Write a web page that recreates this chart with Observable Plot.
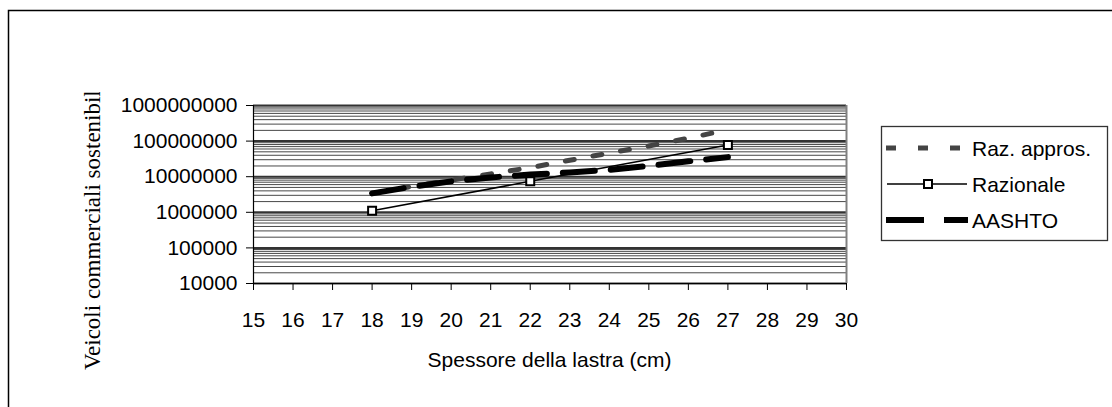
<!DOCTYPE html>
<html>
<head>
<meta charset="utf-8">
<script src="https://cdn.jsdelivr.net/npm/d3@7"></script>
<script src="https://cdn.jsdelivr.net/npm/@observablehq/plot@0.6"></script>
<style>
  html, body { margin: 0; padding: 0; background: #fff; }
  #chart { width: 1112px; height: 407px; overflow: hidden; }
</style>
</head>
<body>
<div id="chart"></div>
<script>
// ---- data ----
const seriesNames = ["Raz. appros.", "Razionale", "AASHTO"];
const thickness = [18, 19, 20, 21, 22, 23, 24, 25, 26, 27];
const razApprosValues = [3.4e6, 5.3e6, 8.0e6, 1.2e7, 1.8e7, 2.9e7, 4.6e7, 7.3e7, 1.2e8, 2.1e8];
const razionaleThickness = [18, 22, 27];
const razionaleValues = [1.1e6, 7.4e6, 7.8e7];
const aashtoValues = [3.4e6, 5.2e6, 7.4e6, 9.5e6, 1.15e7, 1.32e7, 1.55e7, 2.0e7, 2.7e7, 3.55e7];
const xTicks = [15, 16, 17, 18, 19, 20, 21, 22, 23, 24, 25, 26, 27, 28, 29, 30];
const yTicks = [1e4, 1e5, 1e6, 1e7, 1e8, 1e9];
const yMinorMultipliers = [2, 3, 4, 5, 6, 7, 8, 9];
const xTitle = "Spessore della lastra (cm)";
const yTitle = "Veicoli commerciali sostenibili";

// ---- tables built from the arrays ----
const razApprosRows = thickness.map((t, i) => ({x: t, y: razApprosValues[i]}));
const razionaleRows = razionaleThickness.map((t, i) => ({x: t, y: razionaleValues[i]}));
const aashtoRows = thickness.map((t, i) => ({x: t, y: aashtoValues[i]}));
const minorGrid = yTicks.slice(0, -1).flatMap(d => yMinorMultipliers.map(m => d * m));

const W = 1112, H = 407;
const mL = 253, mR = 266, mT = 105, mB = 124;
const sans = "'Liberation Sans', Arial, sans-serif";

const chart = Plot.plot({
  width: W,
  height: H,
  marginLeft: mL,
  marginRight: mR,
  marginTop: mT,
  marginBottom: mB,
  style: {fontFamily: sans, fontSize: "21px", color: "#000", background: "#fff"},
  x: {domain: [15, 30]},
  y: {type: "log", domain: [1e4, 1e9]},
  marks: [
    Plot.ruleY(minorGrid, {stroke: "#000", strokeOpacity: 0.72, strokeWidth: 1}),
    Plot.ruleY(yTicks, {stroke: "#000", strokeOpacity: 0.8, strokeWidth: 2}),
    Plot.ruleX([30], {stroke: "#808080", strokeWidth: 2}),
    Plot.ruleX([15], {stroke: "#000", strokeWidth: 1.2}),
    Plot.ruleY([1e4], {stroke: "#000", strokeWidth: 1.2}),
    Plot.axisY({ticks: yTicks, tickFormat: d3.format("d"), tickSize: 7, tickPadding: 9, label: null, fontSize: 21, stroke: "#000"}),
    Plot.axisX({ticks: xTicks, tickFormat: d => String(d), tickSize: 7, tickPadding: 22, label: null, fontSize: 21, stroke: "#000"}),
    Plot.line(razApprosRows, {x: "x", y: "y", stroke: "#444", strokeWidth: 5, strokeDasharray: "9,19"}),
    Plot.line(aashtoRows, {x: "x", y: "y", stroke: "#000", strokeWidth: 6, strokeDasharray: "32,16"}),
    Plot.line(razionaleRows, {x: "x", y: "y", stroke: "#000", strokeWidth: 1.5}),
    Plot.dot(razionaleRows, {x: "x", y: "y", symbol: "square", r: 4.5, stroke: "#000", strokeWidth: 2, fill: "#fff"})
  ]
});

document.getElementById("chart").appendChild(chart);

// ---- decorations: frame, titles, legend ----
const svg = d3.select(chart);
svg.append("path")
  .attr("d", `M8.5,${H} V10.5 H${W}`)
  .attr("fill", "none").attr("stroke", "#000").attr("stroke-width", 1.5);

svg.append("text")
  .attr("x", (mL + (W - mR)) / 2).attr("y", 367)
  .attr("text-anchor", "middle")
  .style("font-family", sans).style("font-size", "21px")
  .text(xTitle);

const defs = svg.append("defs");
defs.append("clipPath").attr("id", "ytclip")
  .append("rect").attr("x", 0).attr("y", 92).attr("width", 200).attr("height", 330);
svg.append("g").attr("clip-path", "url(#ytclip)")
  .append("text")
  .attr("transform", "translate(100,370) rotate(-90)")
  .attr("text-anchor", "start")
  .style("font-family", "'Liberation Serif', 'Times New Roman', serif").style("font-size", "23px")
  .text(yTitle);

const lg = svg.append("g").attr("text-anchor", "start");
lg.append("rect").attr("x", 881.5).attr("y", 126.5).attr("width", 226).attr("height", 114)
  .attr("fill", "#fff").attr("stroke", "#333").attr("stroke-width", 1.3);
const rowsY = [148, 184, 220];
lg.append("line").attr("x1", 886).attr("x2", 962).attr("y1", rowsY[0]).attr("y2", rowsY[0])
  .attr("stroke", "#444").attr("stroke-width", 5).attr("stroke-dasharray", "10,22");
lg.append("line").attr("x1", 887).attr("x2", 967).attr("y1", rowsY[1]).attr("y2", rowsY[1])
  .attr("stroke", "#000").attr("stroke-width", 1.5);
lg.append("rect").attr("x", 924).attr("y", rowsY[1] - 4).attr("width", 8).attr("height", 8)
  .attr("fill", "#fff").attr("stroke", "#000").attr("stroke-width", 2);
lg.append("line").attr("x1", 886).attr("x2", 968).attr("y1", rowsY[2]).attr("y2", rowsY[2])
  .attr("stroke", "#000").attr("stroke-width", 6).attr("stroke-dasharray", "38,20");
seriesNames.forEach((name, i) => {
  lg.append("text").attr("x", 972).attr("y", rowsY[i]).attr("dy", "0.36em")
    .attr("text-anchor", "start")
    .style("font-family", sans).style("font-size", "21px")
    .text(name);
});
</script>
</body>
</html>
